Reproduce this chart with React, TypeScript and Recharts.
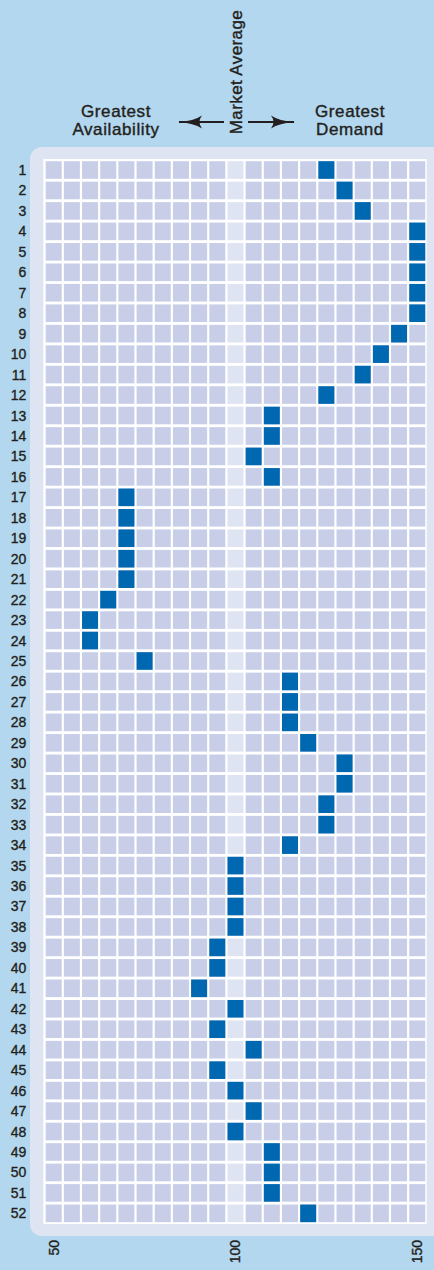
import React from "react";
import { ScatterChart, Scatter, XAxis, YAxis, CartesianGrid } from "recharts";

// Categories: row numbers 1..52
const rows: number[] = [
  1, 2, 3, 4, 5, 6, 7, 8, 9, 10, 11, 12, 13, 14, 15, 16, 17, 18, 19, 20, 21, 22, 23, 24, 25, 26,
  27, 28, 29, 30, 31, 32, 33, 34, 35, 36, 37, 38, 39, 40, 41, 42, 43, 44, 45, 46, 47, 48, 49, 50,
  51, 52,
];
// Index scale columns (50 .. 150 step 5)
const columns: number[] = [
  50, 55, 60, 65, 70, 75, 80, 85, 90, 95, 100, 105, 110, 115, 120, 125, 130, 135, 140, 145, 150,
];
// Value per row (index)
const values: number[] = [
  125, 130, 135, 150, 150, 150, 150, 150, 145, 140, 135, 125, 110, 110, 105, 110, 70, 70, 70, 70,
  70, 65, 60, 60, 75, 115, 115, 115, 120, 130, 130, 125, 125, 115, 100, 100, 100, 100, 95, 95, 90,
  100, 95, 105, 95, 100, 105, 100, 110, 110, 110, 120,
];
const xTicks: number[] = [50, 100, 150];
const marketAverage = 100;

const BG = "#b3d7ee";
const PANEL = "#dfe4f2";
const CELL = "#c8cee8";
const CELL_AVG = "#dfe4f3";
const DARK = "#0067b1";
const TEXT = "#231f20";
const FONT = "'Liberation Sans', Arial, Helvetica, sans-serif";

const CELL_W = 16;
const CELL_H = 17.6;

const gridCells = rows.flatMap((r) =>
  columns.map((c) => ({ x: c, y: r, avg: c === marketAverage }))
);
const bgCells = gridCells.filter((d) => !d.avg);
const avgCells = gridCells.filter((d) => d.avg);
const marks = rows.map((r, i) => ({ x: values[i], y: r }));

const makeCell = (fill: string) => (props: any) => {
  const { cx, cy } = props;
  if (cx == null || cy == null) return <g />;
  return <rect x={cx - CELL_W / 2} y={cy - CELL_H / 2} width={CELL_W} height={CELL_H} fill={fill} />;
};

const XTick = (props: any) => {
  const { x, y, payload } = props;
  return (
    <text
      x={x}
      y={y}
      transform={`rotate(-90, ${x}, ${y})`}
      textAnchor="end"
      dominantBaseline="central"
      fontSize={14}
      fontFamily={FONT}
      fill={TEXT}
      stroke={TEXT}
      strokeWidth={0.35}
    >
      {payload.value}
    </text>
  );
};

const YTick = (props: any) => {
  const { x, y, payload } = props;
  return (
    <text
      x={x}
      y={y}
      textAnchor="end"
      dominantBaseline="central"
      fontSize={14}
      fontFamily={FONT}
      fill={TEXT}
      stroke={TEXT}
      strokeWidth={0.35}
    >
      {payload.value}
    </text>
  );
};

export default function App() {
  return (
    <div
      style={{
        position: "absolute",
        left: 0,
        top: 0,
        width: 434,
        height: 1270,
        background: BG,
        overflow: "hidden",
        fontFamily: FONT,
      }}
    >
      {/* panel */}
      <div
        style={{
          position: "absolute",
          left: 30,
          top: 147,
          width: 420,
          height: 1089,
          background: PANEL,
          borderRadius: 12,
        }}
      />
      {/* header */}
      <svg width={434} height={150} style={{ position: "absolute", left: 0, top: 0 }}>
        <defs>
          <marker
            id="ah"
            viewBox="0 0 24 14"
            refX="23"
            refY="7"
            markerWidth="24"
            markerHeight="14"
            markerUnits="userSpaceOnUse"
            orient="auto"
          >
            <path d="M0,0.5 Q8,6 24,7 Q8,8 0,13.5 Q5,7 0,0.5 Z" fill={TEXT} />
          </marker>
        </defs>
        <g
          fontFamily={FONT}
          fontSize={17}
          fill={TEXT}
          stroke={TEXT}
          strokeWidth={0.4}
          textAnchor="middle"
          letterSpacing={0.6}
        >
          <text x={116} y={117}>Greatest</text>
          <text x={116} y={135}>Availability</text>
          <text x={350} y={117}>Greatest</text>
          <text x={350} y={135}>Demand</text>
          <text x={242} y={72} transform="rotate(-90, 242, 72)" letterSpacing={0.4}>
            Market Average
          </text>
        </g>
        <line x1={224} y1={122} x2={179} y2={122} stroke={TEXT} strokeWidth={2} markerEnd="url(#ah)" />
        <line x1={248} y1={122} x2={294} y2={122} stroke={TEXT} strokeWidth={2} markerEnd="url(#ah)" />
      </svg>
      <div style={{ position: "absolute", left: 0, top: 0 }}>
        <ScatterChart width={434} height={1270} margin={{ top: 159, right: 7.3, bottom: 0, left: 3.3 }}>
          <CartesianGrid fill="#ffffff" stroke="none" horizontal={false} vertical={false} />
          <XAxis
            type="number"
            dataKey="x"
            domain={[47.14, 152.6]}
            ticks={xTicks}
            allowDataOverflow
            axisLine={false}
            tickLine={false}
            tickSize={0}
            tickMargin={16}
            height={46}
            tick={<XTick />}
            interval={0}
          />
          <YAxis
            type="number"
            dataKey="y"
            domain={[0.462, 52.52]}
            reversed
            ticks={rows}
            allowDataOverflow
            axisLine={false}
            tickLine={false}
            tickSize={0}
            tickMargin={17}
            width={40}
            tick={<YTick />}
            interval={0}
          />
          <Scatter data={bgCells} shape={makeCell(CELL)} isAnimationActive={false} />
          <Scatter data={avgCells} shape={makeCell(CELL_AVG)} isAnimationActive={false} />
          <Scatter data={marks} shape={makeCell(DARK)} isAnimationActive={false} />
        </ScatterChart>
      </div>
    </div>
  );
}
